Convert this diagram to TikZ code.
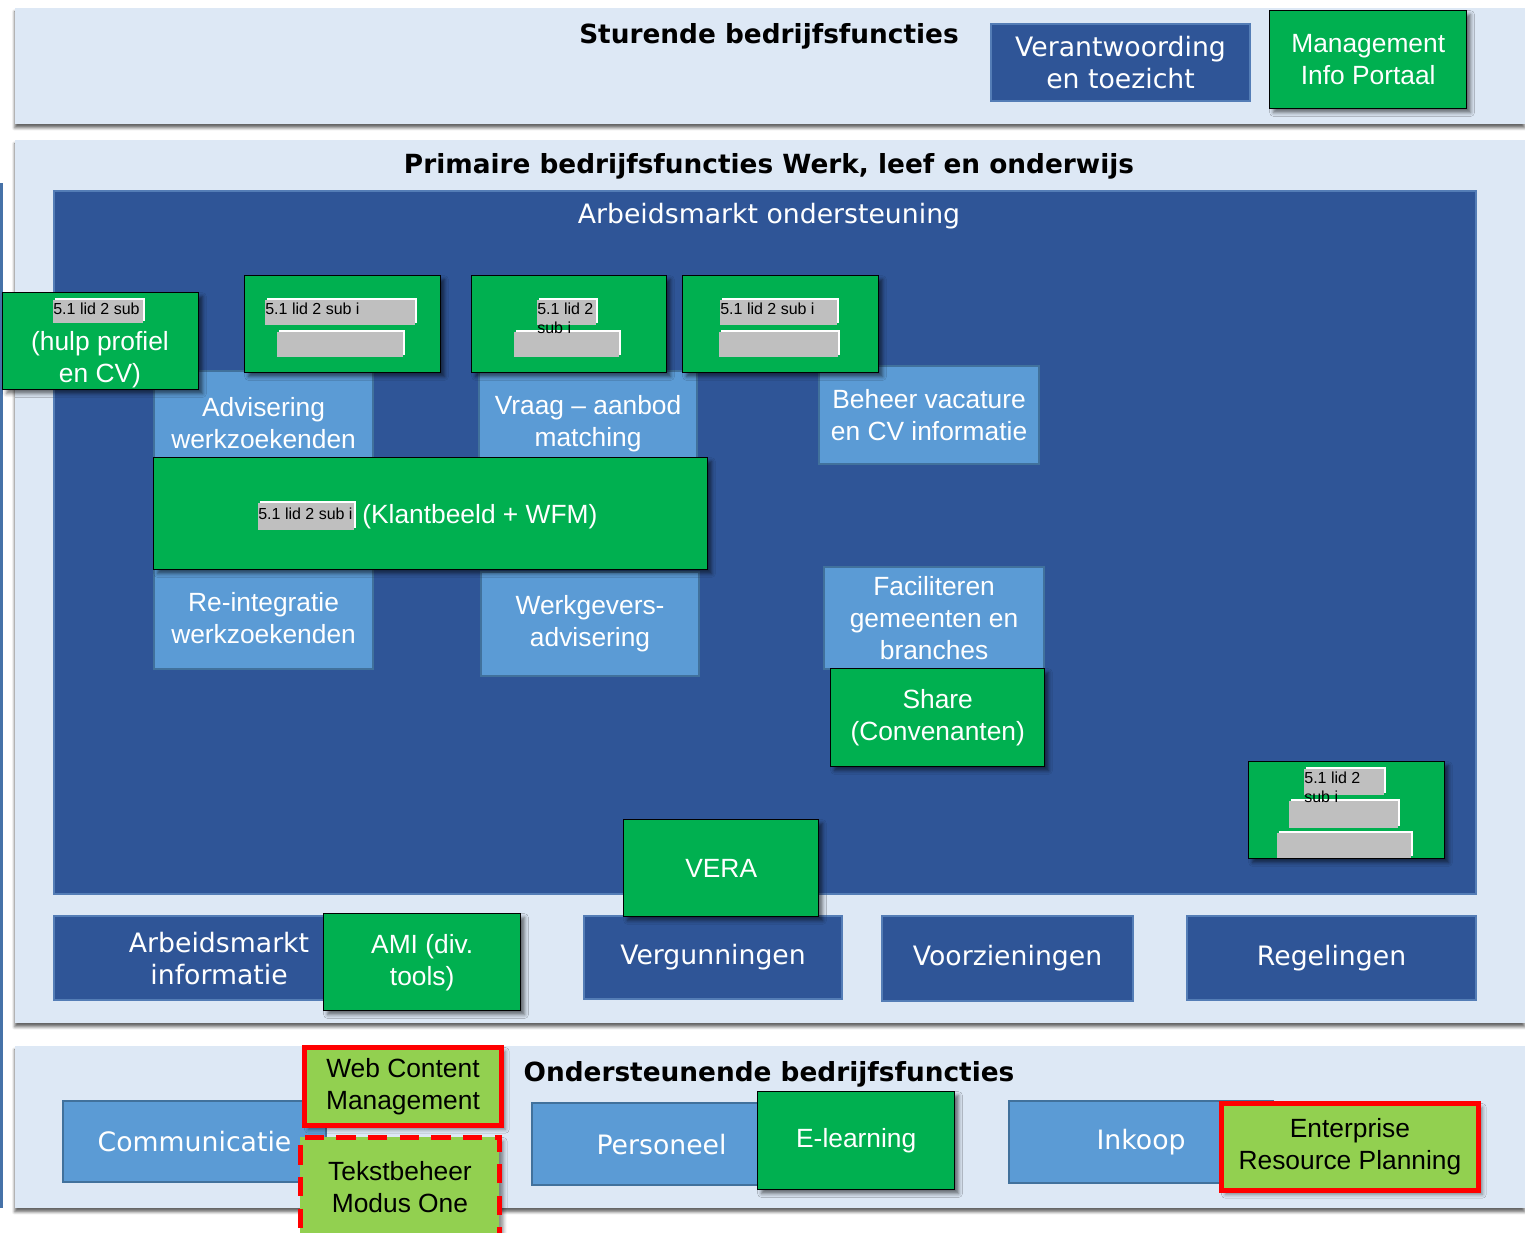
\documentclass[tikz,border=0pt]{standalone}
\usepackage{fontspec}
\setmainfont{Liberation Sans}
\newfontfamily\verdana{DejaVu Sans}
\usetikzlibrary{shadows,shadows.blur}

\definecolor{secbg}{RGB}{221,232,245}
\definecolor{darkblue}{RGB}{47,85,151}
\definecolor{darkedge}{RGB}{84,125,182}
\definecolor{lightblue}{RGB}{91,155,213}
\definecolor{lightedge}{RGB}{65,113,156}
\definecolor{apgreen}{RGB}{0,176,80}
\definecolor{limegreen}{RGB}{146,208,80}
\definecolor{taggray}{RGB}{191,191,191}
\definecolor{sideline}{RGB}{70,114,168}

\newcommand\px{0.02cm}
\newcommand\armsize{\fontsize{15pt}{18.2pt}\selectfont}
\newcommand\verdsize{\verdana\fontsize{15.2pt}{18.2pt}\selectfont}
\newcommand\titlesize{\verdana\bfseries\fontsize{15pt}{18pt}\selectfont}
\newcommand\tagsize{\fontsize{9.1pt}{10.6pt}\selectfont}

\tikzset{
  wh/.style 2 args={minimum width=#1*\px, minimum height=#2*\px},
  box/.style={rectangle, inner sep=0pt, align=center, text=white, anchor=north west},
  sec/.style={rectangle, inner sep=0pt, anchor=north west, fill=secbg,
    blur shadow={shadow xshift=-0.4pt, shadow yshift=-2pt, shadow blur radius=1.6pt, shadow opacity=60}},
  darkbox/.style={box, fill=darkblue, draw=darkedge, line width=1.2pt, font=\verdsize},
  lightbox/.style={box, fill=lightblue, draw=lightedge, line width=1.2pt, font=\armsize},
  greenbox/.style={box, fill=apgreen, draw=black, line width=0.8pt, font=\armsize,
    blur shadow={shadow xshift=2.2pt, shadow yshift=-2.2pt, shadow blur radius=2.2pt, shadow opacity=55}},
  limebox/.style={box, fill=limegreen, draw=red, line width=2.8pt, text=black, font=\armsize,
    blur shadow={shadow xshift=2.2pt, shadow yshift=-2.2pt, shadow blur radius=2.2pt, shadow opacity=45}},
  tag/.style={rectangle, inner sep=0pt, anchor=north west, fill=taggray,
    drop shadow={fill=white, opacity=1, shadow xshift=1.2pt, shadow yshift=1.2pt}},
  tagtext/.style={inner sep=0pt, anchor=north west, align=left, font=\tagsize, text=black, yshift=-1.6pt},
}

\begin{document}
\begin{tikzpicture}[x=0.02cm, y=-0.02cm]
\useasboundingbox (0,0) rectangle (1525,1232);

% the three layers
\node[sec, wh={1510}{116}] (sturend) at (15,8) {};
\node[sec, wh={1510}{883}] (primair) at (15,140) {};
\node[sec, wh={1510}{162}] (onderst) at (15,1046) {};
\fill[sideline] (0,183) rectangle (3,1208);

\node[font=\titlesize] (sturtitle) at (769,36) {Sturende bedrijfsfuncties};
\node[font=\titlesize] (primtitle) at (769,166) {Primaire bedrijfsfuncties Werk, leef en onderwijs};
\node[font=\titlesize] (ondtitle) at (769,1074) {Ondersteunende bedrijfsfuncties};

% sturend
\node[darkbox, wh={259}{77}] (verant) at (990,23) {Verantwoording\\en toezicht};
\node[greenbox, wh={197}{98}] (mip) at (1269,10) {Management\\Info Portaal};

% arbeidsmarkt ondersteuning
\node[darkbox, wh={1422}{703}] (arbeid) at (53,190) {};
\node[text=white, font=\verdsize] (amtitle) at (769,216) {Arbeidsmarkt ondersteuning};

\node[lightbox, wh={219}{104}] (advis) at (153,370) {Advisering\\werkzoekenden};
\node[lightbox, wh={218}{106}] (vraag) at (478,370) {Vraag -- aanbod\\matching};
\node[lightbox, wh={220}{98}] (beheer) at (818,365) {Beheer vacature\\en CV informatie};
\node[lightbox, wh={219}{102}] (reint) at (153,566) {Re-integratie\\werkzoekenden};
\node[lightbox, wh={218}{104}] (werkgev) at (480,571) {Werkgevers-\\advisering};
\node[lightbox, wh={220}{102}] (facil) at (823,566) {Faciliteren\\gemeenten en\\branches};

\node[greenbox, wh={196}{97}] (hulp) at (2,292) {};
\node[tag, wh={90}{23}] (tag1) at (53,300) {};
\node[tagtext] (tag1txt) at (tag1.north west) {5.1 lid 2 sub};
\node[text=white, font=\armsize, align=center] (hulptxt) at (100,360) {(hulp profiel\\en CV)};

\node[greenbox, wh={196}{97}] (grn2) at (244,275) {};
\node[tag, wh={150}{25}] (tag2) at (265,300) {};
\node[tagtext] (tag2txt) at (tag2.north west) {5.1 lid 2 sub i};
\node[tag, wh={126}{25}] (tag2b) at (277,332) {};

\node[greenbox, wh={195}{97}] (grn3) at (471,275) {};
\node[tag, wh={59}{25}] (tag3) at (537,300) {};
\node[tag, wh={105}{25}] (tag3b) at (514,332) {};
\node[tagtext] (tag3txt) at (tag3.north west) {5.1 lid 2\\sub i};

\node[greenbox, wh={196}{97}] (grn4) at (682,275) {};
\node[tag, wh={117}{25}] (tag4) at (720,300) {};
\node[tagtext] (tag4txt) at (tag4.north west) {5.1 lid 2 sub i};
\node[tag, wh={119}{25}] (tag4b) at (719,332) {};

\node[greenbox, wh={554}{112}] (klant) at (153,457) {};
\node[tag, wh={96}{27}] (tagk) at (258,503) {};
\node[tagtext] (tagktxt) at ([yshift=-1pt]tagk.north west) {5.1 lid 2 sub i};
\node[text=white, font=\armsize, anchor=west, inner sep=0pt] (klanttxt) at (362,517) {(Klantbeeld + WFM)};

\node[greenbox, wh={214}{98}] (share) at (830,668) {Share\\(Convenanten)};

\node[greenbox, wh={196}{97}] (grn5) at (1248,761) {};
\node[tag, wh={80}{26}] (tag5) at (1304,769) {};
\node[tag, wh={109}{27}] (tag5b) at (1289,801) {};
\node[tag, wh={134}{25}] (tag5c) at (1277,833) {};
\node[tagtext] (tag5txt) at (tag5.north west) {5.1 lid 2\\sub i};

% onderste rij primair
\node[darkbox, wh={330}{84}] (aminfo) at (53,915) {Arbeidsmarkt\\informatie};
\node[greenbox, wh={197}{97}] (ami) at (323,913) {AMI (div.\\tools)};
\node[darkbox, wh={258}{83}] (vergun) at (583,915) {Vergunningen};
\node[greenbox, wh={195}{97}] (vera) at (623,819) {VERA};
\node[darkbox, wh={251}{85}] (voorz) at (881,915) {Voorzieningen};
\node[darkbox, wh={289}{84}] (regel) at (1186,915) {Regelingen};

% ondersteunend
\node[lightbox, wh={263}{81}, font=\verdsize] (commun) at (62,1100) {Communicatie};
\node[limebox, wh={197}{78}] (wcm) at (302,1045) {Web Content\\Management};
\node[limebox, wh={199}{100}, dash pattern=on 11pt off 7pt] (tekst) at (298,1135) {Tekstbeheer\\Modus One};
\node[lightbox, wh={259}{82}, font=\verdsize] (person) at (531,1102) {Personeel};
\node[greenbox, wh={197}{98}] (elearn) at (757,1091) {E-learning};
\node[lightbox, wh={264}{82}, font=\verdsize] (inkoop) at (1008,1100) {Inkoop};
\node[limebox, wh={257}{87}] (erp) at (1219,1101) {Enterprise\\Resource Planning};
\end{tikzpicture}
\end{document}
